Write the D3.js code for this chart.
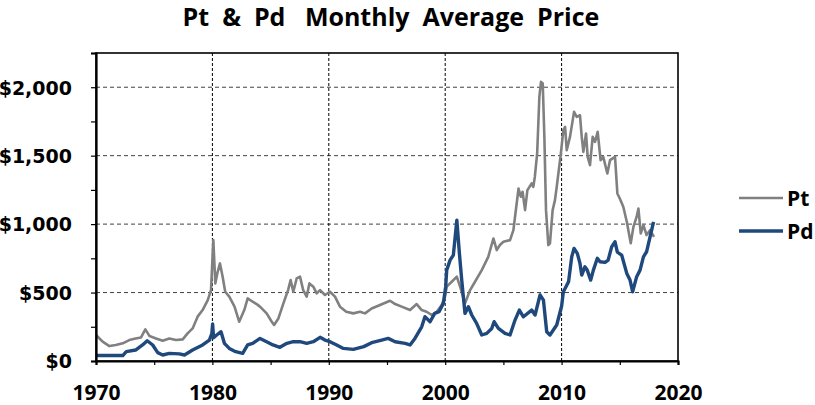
<!DOCTYPE html>
<html><head><meta charset="utf-8">
<script src="https://cdn.jsdelivr.net/npm/d3@7"></script>
<style>
html,body{margin:0;padding:0;background:#fff;}
svg text{font-family:"Open Sans",sans-serif;font-weight:bold;fill:#000;}
</style></head>
<body>
<svg id="c" width="815" height="405"></svg>
<script>
const title = "Pt  &  Pd   Monthly  Average  Price";
const seriesNames = ["Pt", "Pd"];
const xTickYears = [1970, 1980, 1990, 2000, 2010, 2020];
const yTickValues = [0, 500, 1000, 1500, 2000];

const ptDates = [1970.0,1970.57,1971.15,1971.7,1972.3,1972.86,1973.4,1973.87,1974.24,1974.6,1975.15,1975.73,1976.3,1976.87,1977.45,1977.87,1978.3,1978.73,1979.16,1979.6,1979.88,1980.08,1980.25,1980.42,1980.65,1980.88,1981.1,1981.45,1981.9,1982.3,1982.74,1983.03,1983.46,1983.9,1984.09,1984.66,1985.1,1985.3,1985.67,1986.1,1986.5,1986.72,1986.95,1987.24,1987.53,1987.8,1988.1,1988.33,1988.67,1988.96,1989.25,1989.67,1990.1,1990.53,1990.96,1991.5,1992.1,1992.68,1993.11,1993.68,1994.4,1995.26,1995.7,1996.26,1996.98,1997.55,1997.98,1998.4,1998.84,1999.27,1999.7,1999.98,2000.13,2000.56,2001.0,2001.28,2001.7,2002.14,2002.56,2003.14,2003.7,2004.14,2004.43,2004.7,2005.0,2005.57,2005.86,2006.0,2006.3,2006.5,2006.65,2006.86,2007.06,2007.43,2007.57,2007.7,2007.9,2008.09,2008.23,2008.38,2008.52,2008.66,2008.86,2009.0,2009.23,2009.43,2009.58,2009.92,2010.15,2010.3,2010.44,2010.72,2011.07,2011.3,2011.58,2011.73,2011.87,2012.1,2012.24,2012.44,2012.67,2012.87,2013.1,2013.35,2013.58,2013.93,2014.16,2014.59,2014.79,2015.0,2015.3,2015.6,2015.94,2016.17,2016.45,2016.6,2016.8,2017.03,2017.3,2017.6,2017.94];
const ptPrices = [190,141,109,117,129,153,165,172,231,182,165,148,165,153,158,202,238,324,372,445,518,883,567,640,713,616,506,470,397,287,372,457,433,410,397,348,287,263,311,421,518,591,506,603,616,518,470,567,543,494,518,482,506,470,397,360,348,360,348,384,409,440,416,397,372,416,372,360,336,360,409,470,543,579,616,543,421,518,579,664,761,895,810,847,871,883,956,1054,1260,1200,1236,1102,1248,1297,1272,1345,1516,1929,2039,2027,1637,1102,847,860,1102,1175,1272,1504,1686,1710,1540,1637,1820,1783,1795,1637,1528,1662,1491,1431,1637,1601,1674,1467,1491,1370,1467,1491,1224,1187,1127,1017,860,980,1054,1114,932,993,920,956,907];

const pdDates = [1970.0,1972.3,1972.6,1973.4,1974.0,1974.4,1974.87,1975.3,1975.73,1976.3,1977.16,1977.6,1978.3,1979.16,1979.74,1979.95,1980.02,1980.1,1980.37,1980.74,1981.03,1981.45,1982.0,1982.6,1983.03,1983.46,1984.09,1984.66,1985.2,1985.8,1986.4,1986.95,1987.53,1988.1,1988.67,1989.25,1989.67,1990.1,1990.68,1991.25,1992.1,1993.0,1993.68,1994.54,1995.1,1995.7,1996.55,1996.98,1997.4,1997.98,1998.26,1998.7,1999.1,1999.47,1999.84,2000.04,2000.13,2000.42,2000.7,2001.0,2001.22,2001.42,2001.7,2001.99,2002.28,2002.7,2003.14,2003.57,2004.0,2004.2,2004.57,2005.14,2005.57,2006.0,2006.37,2006.72,2007.43,2007.72,2008.15,2008.44,2008.72,2009.0,2009.58,2010.0,2010.15,2010.3,2010.6,2010.87,2011.07,2011.35,2011.58,2011.73,2012.0,2012.2,2012.5,2012.73,2013.07,2013.3,2013.73,2014.0,2014.3,2014.59,2014.79,2015.16,2015.6,2015.88,2016.1,2016.45,2016.74,2017.03,2017.3,2017.6,2017.9];
const pdPrices = [40,40,68,80,117,148,117,61,44,56,52,44,80,117,153,200,270,170,190,214,129,92,68,56,117,129,165,141,117,100,129,141,141,129,141,173,153,141,117,92,85,105,134,153,165,141,129,117,165,250,324,287,348,360,421,543,664,737,774,1029,786,591,348,397,336,275,190,202,238,287,238,202,190,299,372,323,372,336,482,445,214,190,263,400,506,530,580,761,822,786,713,628,688,664,591,664,750,725,720,737,834,871,795,774,640,591,506,616,664,761,798,907,1017];

const W = 815, H = 405;
const m = {left: 96, right: 815 - 678, top: 53, bottom: 405 - 361};
const svg = d3.select("#c");
const x = d3.scaleLinear().domain([1970, 2020]).range([m.left, W - m.right]);
const y = d3.scaleLinear().domain([0, 2250]).range([H - m.bottom, m.top]);

// grid
svg.append("g").selectAll("line").data(yTickValues.filter(v => v > 0)).join("line")
  .attr("x1", x(1970)).attr("x2", x(2020)).attr("y1", d => y(d)).attr("y2", d => y(d))
  .attr("stroke", "#404040").attr("stroke-width", 1).attr("stroke-dasharray", "4,3");
svg.append("g").selectAll("line").data(xTickYears.filter(v => v > 1970 && v < 2020)).join("line")
  .attr("x1", d => x(d)).attr("x2", d => x(d)).attr("y1", y(0)).attr("y2", y(2250))
  .attr("stroke", "#000").attr("stroke-width", 1).attr("stroke-dasharray", "3,2");

// lines
const line = (dates) => d3.line().x((d, i) => x(dates[i])).y(d => y(d));
svg.append("path").datum(ptPrices).attr("d", line(ptDates))
  .attr("fill", "none").attr("stroke", "#808080").attr("stroke-width", 2.6).attr("stroke-linejoin", "round");
svg.append("path").datum(pdPrices).attr("d", line(pdDates))
  .attr("fill", "none").attr("stroke", "#1F497D").attr("stroke-width", 3.4).attr("stroke-linejoin", "round");

// frame
svg.append("rect").attr("x", x(1970)).attr("y", y(2250)).attr("width", x(2020) - x(1970)).attr("height", y(0) - y(2250))
  .attr("fill", "none").attr("stroke", "#000").attr("stroke-width", 1.6);

// axes
const xAxis = d3.axisBottom(x).tickValues(d3.range(1970, 2021, 5)).tickSize(4)
  .tickFormat(d => xTickYears.includes(d) ? String(d) : "");
const gx = svg.append("g").attr("transform", `translate(0,${y(0)})`).call(xAxis);
gx.select(".domain").attr("stroke-width", 2.2);
gx.selectAll(".tick line").attr("stroke-width", 1.2);
gx.selectAll("text").attr("font-size", 21).attr("dy", 0).attr("y", 39)
  .style("font-family", '"Open Sans",sans-serif').style("font-weight", "bold");

const yAxis = d3.axisLeft(y).tickValues(d3.range(0, 2251, 250)).tickSize(5)
  .tickFormat(d => yTickValues.includes(d) ? "$" + d3.format(",")(d) : "");
const gy = svg.append("g").attr("transform", `translate(${x(1970)},0)`).call(yAxis);
gy.select(".domain").attr("stroke-width", 2.2);
gy.selectAll(".tick line").attr("stroke-width", 1.2);
gy.selectAll("text").attr("font-size", 19).attr("x", -24).attr("dy", "0.36em")
  .style("font-family", '"DejaVu Sans",sans-serif').style("font-weight", "bold");

// title
svg.append("text").attr("x", 391).attr("y", 26).attr("text-anchor", "middle")
  .attr("font-size", 25).attr("xml:space", "preserve").style("white-space", "pre").text(title);

// legend
const legColors = ["#808080", "#1F497D"];
const legW = [2.6, 3.4];
const lg = svg.append("g");
seriesNames.forEach((n, i) => {
  const yy = 198 + i * 33;
  lg.append("line").attr("x1", 739).attr("x2", 783).attr("y1", yy).attr("y2", yy)
    .attr("stroke", legColors[i]).attr("stroke-width", legW[i]);
  lg.append("text").attr("x", 787).attr("y", yy + 7.5).attr("font-size", 21).text(n);
});
</script>
</body></html>
